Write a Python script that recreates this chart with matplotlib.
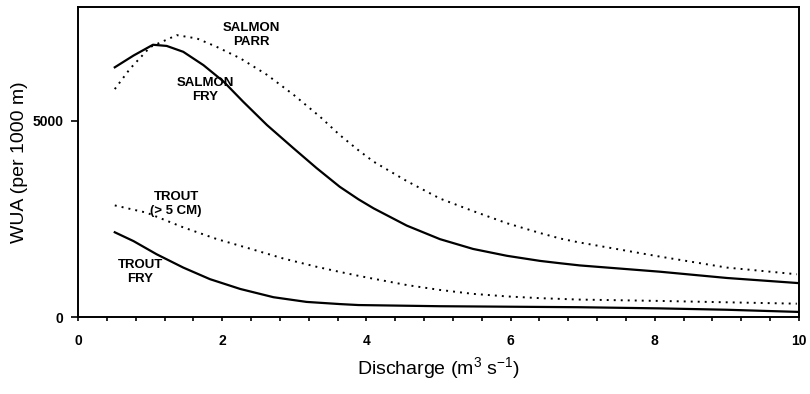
import matplotlib.pyplot as plt
from matplotlib.ticker import MultipleLocator

plt.rcParams["font.family"] = ["Liberation Sans", "DejaVu Sans"]
plt.rcParams["mathtext.fontset"] = "custom"
plt.rcParams["mathtext.rm"] = "Liberation Sans"
plt.rcParams["mathtext.it"] = "Liberation Sans"

# values (discharge in m3/s, WUA per 1000 m)
salmon_fry_x = [0.51, 0.77, 1.04, 1.23, 1.46, 1.74, 2.02, 2.29, 2.62, 2.99, 3.31, 3.63,
                3.89, 4.10, 4.56, 5.02, 5.48, 5.95, 6.41, 6.69, 6.96, 8.07, 9.00, 9.99]
salmon_fry_y = [6365, 6665, 6940, 6910, 6760, 6420, 6000, 5490, 4895, 4300, 3795, 3320,
                3000, 2770, 2330, 1985, 1735, 1560, 1430, 1370, 1315, 1155, 995, 865]

salmon_parr_x = [0.51, 0.72, 1.00, 1.37, 1.65, 1.92, 2.25, 2.62, 2.99, 3.36, 3.63, 3.89,
                 4.10, 4.56, 5.02, 5.48, 5.95, 6.41, 6.69, 6.94, 8.07, 9.00, 9.97]
salmon_parr_y = [5810, 6325, 6880, 7185, 7100, 6890, 6595, 6175, 5665, 5100, 4640, 4250,
                 3960, 3465, 3020, 2700, 2390, 2140, 2000, 1905, 1540, 1260, 1090]

trout_x = [0.51, 0.95, 1.46, 1.92, 2.39, 2.85, 3.31, 3.63, 3.89, 4.10, 4.56, 5.02,
           5.48, 5.95, 6.41, 6.69, 6.94, 8.07, 9.00, 9.97]
trout_y = [2845, 2660, 2285, 1990, 1740, 1490, 1280, 1150, 1050, 975, 815, 690,
           590, 525, 480, 462, 445, 410, 375, 340]

trout_fry_x = [0.51, 0.77, 1.09, 1.46, 1.83, 2.25, 2.71, 3.17, 3.63, 3.89, 5.02, 6.94,
               8.07, 9.00, 9.99]
trout_fry_y = [2160, 1935, 1600, 1260, 965, 715, 505, 385, 330, 305, 275, 250,
               220, 185, 130]

x_ticks = [0, 2, 4, 6, 8, 10]
y_ticks = [0, 5000]

DOTTED = (0, (1, 2.6))

fig = plt.figure(figsize=(8.1, 3.94), dpi=100)
ax = fig.add_axes([0.0963, 0.1954, 0.8901, 0.7866])

ax.plot(salmon_fry_x, salmon_fry_y, color="black", lw=1.6)
ax.plot(salmon_parr_x, salmon_parr_y, color="black", lw=1.4, linestyle=DOTTED)
ax.plot(trout_x, trout_y, color="black", lw=1.4, linestyle=DOTTED)
ax.plot(trout_fry_x, trout_fry_y, color="black", lw=1.6)

# curve labels
lab = dict(ha="center", va="center", fontsize=9.5, fontweight="bold",
           linespacing=1.3, multialignment="center")
ax.text(2.40, 7190, "SALMON\nPARR", **lab)
ax.text(1.76, 5790, "SALMON\nFRY", **lab)
ax.text(1.36, 2880, "TROUT\n(> 5 CM)", **lab)
ax.text(0.86, 1150, "TROUT\nFRY", **lab)

ax.set_xlim(0, 10)
ax.set_ylim(0, 7900)
ax.set_xticks(x_ticks)
ax.set_yticks(y_ticks)
ax.xaxis.set_minor_locator(MultipleLocator(0.4))
ax.tick_params(axis="x", which="both", direction="out", length=3, width=1.2, pad=9,
               labelsize=10)
ax.tick_params(axis="y", direction="out", length=4.7, width=1.2, pad=6, labelsize=10)
for lbl in ax.get_xticklabels() + ax.get_yticklabels():
    lbl.set_fontweight("bold")

for sp in ax.spines.values():
    sp.set_linewidth(1.4)

ax.set_xlabel("Discharge (m$^{3}$ s$^{-1}$)", fontsize=14, labelpad=5)
ax.set_ylabel("WUA (per 1000 m)", fontsize=14, labelpad=3)

fig.savefig("out.png", dpi=100)
